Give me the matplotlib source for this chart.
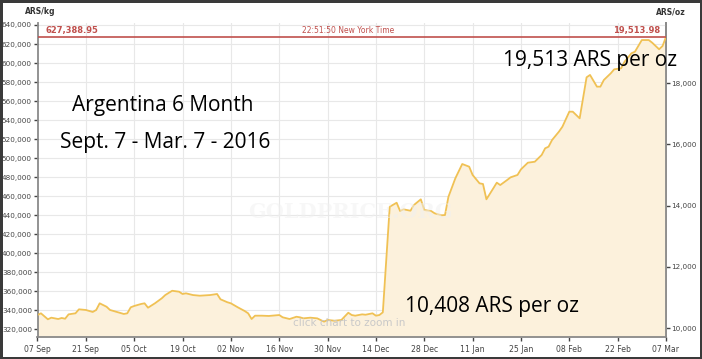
import pandas as pd
import matplotlib
matplotlib.use("Agg")
import matplotlib.pyplot as plt
import matplotlib.dates as mdates
from matplotlib.ticker import FuncFormatter, MultipleLocator

# gold price in ARS per kg (days after 07 Sep 2015)
start = "2015-09-07"
day_offsets = [0, 1, 3, 4, 6, 7, 8, 9, 11, 12,
               14, 16, 17, 18, 20, 21, 23, 25, 26, 27,
               28, 30, 31, 32, 34, 36, 37, 39, 41, 42,
               43, 45, 47, 50, 52, 53, 55, 56, 58, 60,
               61, 62, 63, 65, 67, 70, 71, 73, 75, 76,
               77, 79, 81, 83, 84, 86, 88, 90, 91, 92,
               94, 95, 97, 98, 99, 100, 102, 104, 105, 106,
               108, 109, 111, 112, 114, 115, 117, 118, 119, 121,
               123, 125, 126, 128, 129, 130, 132, 133, 134, 136,
               137, 139, 140, 142, 144, 146, 147, 148, 149, 151,
               152, 154, 155, 157, 159, 160, 162, 163, 164, 166,
               167, 169, 170, 172, 173, 175, 177, 178, 180, 181, 182]
price_kg = [335200, 337000, 330700, 332400, 331000, 332100, 331300, 335900, 337000, 341200,
            340500, 338400, 340500, 347500, 343900, 340500, 338400, 336300, 337000, 343300,
            344700, 346800, 347500, 342900, 347500, 352800, 356200, 360700, 359700, 357300,
            358000, 356200, 355500, 356200, 357300, 351700, 348600, 347500, 343300, 339400,
            337000, 331000, 334500, 334500, 334200, 335200, 332800, 331000, 333400, 332800,
            331700, 332400, 331700, 328200, 330000, 329200, 330000, 337600, 335200, 334500,
            335900, 335500, 337000, 334500, 335200, 338000, 449000, 453200, 444500, 446300,
            444800, 450800, 456800, 445600, 444500, 442100, 440000, 440300, 459500, 478900,
            493900, 491100, 482400, 473600, 472900, 456800, 468400, 474300, 471800, 477100,
            479900, 482400, 488300, 495300, 496300, 503400, 510400, 512100, 519100, 527900,
            533100, 548900, 548900, 541900, 585000, 587500, 575200, 575200, 582200, 589200,
            593400, 594500, 601400, 610300, 611900, 624200, 624200, 621400, 614500, 617900, 627388.95]

last_kg = 627388.95
last_oz = 19513.98
oz_per_kg = last_kg / last_oz

dates = pd.Timestamp(start) + pd.to_timedelta(day_offsets, unit="D")
ymin, ymax = 312100, 642100

W, H = 702, 359
fig = plt.figure(figsize=(W / 100, H / 100), dpi=100)
fig.patch.set_edgecolor("#3a3a3a")
fig.patch.set_linewidth(2.5)

ax = fig.add_axes([37.5 / W, 22 / H, (666 - 37.5) / W, (337 - 23) / H])
ax.fill_between(dates, price_kg, ymin, color="#fcf1dc", lw=0, zorder=1)
ax.plot(dates, price_kg, color="#f0c154", lw=1.3, zorder=3)
ax.set_ylim(ymin, ymax)
ax.set_xlim(pd.Timestamp("2015-09-07"), pd.Timestamp("2016-03-07"))

# gridlines and ticks
ax.yaxis.set_major_locator(MultipleLocator(20000))
ax.yaxis.set_major_formatter(FuncFormatter(lambda v, p: f"{v:,.0f}"))
ax.set_xticks(pd.date_range("2015-09-07", "2016-03-07", freq="14D"))
ax.xaxis.set_major_formatter(mdates.DateFormatter("%d %b"))
ax.grid(True, color="#e8e8e8", lw=0.8, zorder=0)
ax.set_axisbelow(True)
ax.tick_params(axis="y", labelsize=5.2, colors="#444444", length=3, width=1, pad=1)
ax.tick_params(axis="x", labelsize=5.6, colors="#444444", length=3, width=1, pad=2.5)

for side in ["left", "right", "bottom"]:
    ax.spines[side].set_color("#8a8a8a")
    ax.spines[side].set_linewidth(1.3)
ax.spines["top"].set_visible(False)

ax2 = ax.secondary_yaxis("right", functions=(lambda v: v / oz_per_kg, lambda v: v * oz_per_kg))
ax2.set_yticks([10000, 12000, 14000, 16000, 18000])
ax2.yaxis.set_major_formatter(FuncFormatter(lambda v, p: f"{v:,.0f}"))
ax2.tick_params(labelsize=5.2, colors="#444444", length=3, width=1, pad=1)
ax2.spines["right"].set_color("#8a8a8a")
ax2.spines["right"].set_linewidth(1.3)

# current price line
red = "#c0504d"
ax.axhline(last_kg, color=red, lw=1.2, zorder=4)
trans = ax.get_yaxis_transform()
ax.text(0.012, last_kg + 2500, "627,388.95", transform=trans, color=red, fontsize=6,
        fontweight="bold", va="bottom", ha="left")
ax.text(0.99, last_kg + 2500, "19,513.98", transform=trans, color=red, fontsize=6,
        fontweight="bold", va="bottom", ha="right")
ax.text(0.495, last_kg + 2500, "22:51:50 New York Time", transform=trans, color=red,
        fontsize=5.5, va="bottom", ha="center")

# watermark and hint
fig.text(350 / W, 1 - 212 / H, "GOLDPRICE.ORG", fontsize=15, fontweight="bold",
         family="DejaVu Serif", color="#f0f0f0", alpha=0.5, ha="center", va="center")
fig.text(349 / W, 1 - 323 / H, "click chart to zoom in", fontsize=7.5, color="#c9c9c9",
         ha="center", va="center")

# units
fig.text(40 / W, 1 - 12 / H, "ARS/kg", fontsize=5.5, fontweight="bold", color="#333333",
         ha="center", va="center")
fig.text(671 / W, 1 - 12 / H, "ARS/oz", fontsize=5.5, fontweight="bold", color="#333333",
         ha="center", va="center")

# annotations
big = dict(family="Open Sans", fontsize=15, color="black", va="baseline", ha="left")
fig.text(72 / W, 1 - 111 / H, "Argentina 6 Month", **big)
fig.text(60 / W, 1 - 148 / H, "Sept. 7 - Mar. 7 - 2016", **big)
fig.text(503 / W, 1 - 66 / H, "19,513 ARS per oz", **big)
fig.text(405 / W, 1 - 312 / H, "10,408 ARS per oz", **big)

fig.savefig("out.png", dpi=100)
